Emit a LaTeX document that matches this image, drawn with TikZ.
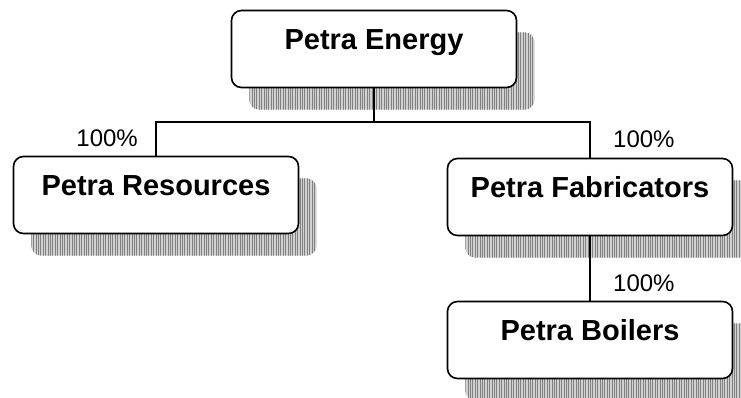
\documentclass[tikz,border=0pt]{standalone}
\usepackage{fontspec}
\setmainfont{Liberation Sans}
\usetikzlibrary{patterns.meta}
\begin{document}
\begin{tikzpicture}[x=1pt,y=-1pt,
  orgbox/.style={draw=black, line width=1.6pt, fill=white, rounded corners=10pt,
    minimum width=285pt, minimum height=77pt, inner sep=0pt,
    font=\fontsize{29}{29}\selectfont\bfseries, text height=21pt, text depth=20pt},
  shadowbase/.style={fill=black!18, rounded corners=10pt},
  shadowlines/.style={pattern={Lines[angle=90,distance=2.4pt,line width=1pt]}, pattern color=black!50, rounded corners=10pt},
  conn/.style={line width=1.6pt},
  pct/.style={font=\fontsize{24}{24}\selectfont, inner sep=0pt}
]
\useasboundingbox (0,0) rectangle (741,397);
\clip (0,0) rectangle (741,397);
% placeholders for positions of the boxes
\path (374,49) node[minimum width=285pt, minimum height=77pt] (eP) {};
\path (156,195) node[minimum width=285pt, minimum height=77pt] (rP) {};
\path (590,197) node[minimum width=285pt, minimum height=77pt] (fP) {};
\path (590,340) node[minimum width=285pt, minimum height=77pt] (bP) {};
% shadows
\foreach \n in {eP,rP,fP,bP}{
  \fill[shadowbase] ([shift={(18,22)}]\n.north west) rectangle ([shift={(18,22)}]\n.south east);
  \fill[shadowlines] ([shift={(18,22)}]\n.north west) rectangle ([shift={(18,22)}]\n.south east);
}
\node[orgbox] (e) at (eP) {Petra Energy};
\node[orgbox] (r) at (rP) {Petra Resources};
\node[orgbox] (f) at (fP) {Petra Fabricators};
\node[orgbox] (b) at (bP) {Petra Boilers};
% connectors
\coordinate (bus) at (374,122);
\draw[conn] (e.south) -- (bus);
\draw[conn] (r.north) |- (bus) -| (f.north);
\draw[conn] (f.south) -- (b.north);
% labels
\node[pct, anchor=east] (l1) at (138,138) {100\%};
\node[pct, anchor=west] (l2) at (613,139) {100\%};
\node[pct, anchor=west] (l3) at (613,283) {100\%};
\end{tikzpicture}
\end{document}
